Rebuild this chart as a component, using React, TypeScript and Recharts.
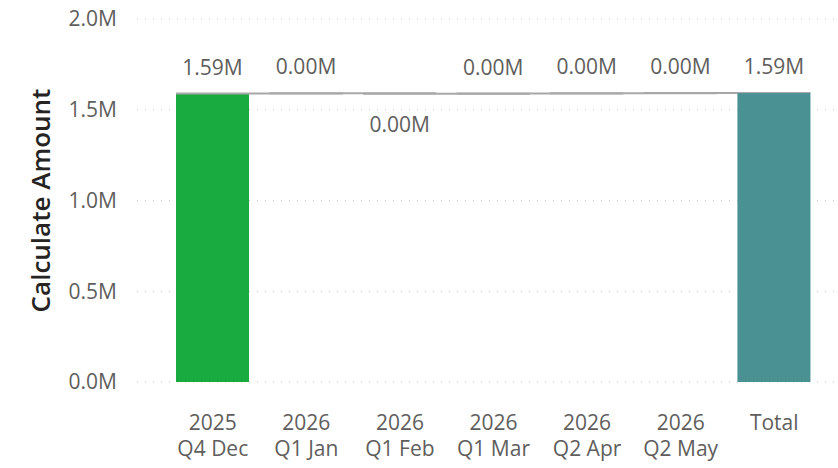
import { BarChart, Bar, XAxis, YAxis, CartesianGrid, LabelList } from "recharts";

const categories = ["2025\nQ4 Dec", "2026\nQ1 Jan", "2026\nQ1 Feb", "2026\nQ1 Mar", "2026\nQ2 Apr", "2026\nQ2 May"];
const totalLabel = "Total";
const deltas = [1589400, 1200, -2100, 800, 1500, 900];
const yTicks = [0, 500000, 1000000, 1500000, 2000000];

const W = 838;
const H = 468;
const margin = { top: 19, right: 2, left: 0, bottom: 0 };
const yAxisWidth = 137;
const xPad = { left: 29, right: 15 };
const font = "'Open Sans', 'Noto Sans', sans-serif";
const textColor = "#605E5C";

const colors = { up: "#1AAB40", down: "#D64550", total: "#4A9194" };

type Row = { name: string; range: [number, number]; amount: number; kind: "up" | "down" | "total" };

let running = 0;
const data: Row[] = deltas.map((d, i) => {
  const start = running;
  running += d;
  return {
    name: categories[i],
    range: [Math.min(start, running), Math.max(start, running)],
    amount: d,
    kind: d >= 0 ? "up" : "down",
  };
});
data.push({ name: totalLabel, range: [0, running], amount: running, kind: "total" });

const step = (W - margin.left - margin.right - yAxisWidth - xPad.left - xPad.right) / data.length;

const fmtAxis = (v: number) => (v / 1e6).toFixed(1) + "M";
const fmtLabel = (v: number) => {
  const m = Math.round(v / 1e4) / 100;
  return (m === 0 ? 0 : m).toFixed(2) + "M";
};

function WaterfallBar(props: any) {
  const { x, y, width, height, payload } = props;
  const h = Math.max(height, 0);
  const endY = payload.kind === "down" ? y + h : y;
  return (
    <g>
      <rect x={x} y={y} width={width} height={h} fill={colors[payload.kind as keyof typeof colors]} />
      {payload.kind !== "total" && (
        <line x1={x} x2={x + width + step} y1={endY} y2={endY} stroke="#A8A8A8" strokeWidth={2} />
      )}
    </g>
  );
}

function BarLabel(props: any) {
  const { x, y, width, height, index } = props;
  const row = data[index];
  const below = row.kind === "down";
  return (
    <text
      x={x + width / 2}
      y={below ? y + Math.max(height, 0) + 38 : y - 19}
      textAnchor="middle"
      fill={textColor}
      fontSize={21}
      fontFamily={font}
    >
      {fmtLabel(row.amount)}
    </text>
  );
}

function XTick(props: any) {
  const { x, y, payload } = props;
  const lines = String(payload.value).split("\n");
  return (
    <text x={x} y={y + 46} textAnchor="middle" fill={textColor} fontSize={21} fontFamily={font}>
      {lines.map((l, i) => (
        <tspan key={i} x={x} dy={i === 0 ? 0 : 26}>
          {l}
        </tspan>
      ))}
    </text>
  );
}

function YTitle(props: any) {
  const { viewBox } = props;
  const cx = viewBox.x + 40;
  const cy = viewBox.y + viewBox.height / 2;
  return (
    <text
      x={cx}
      y={cy}
      transform={`rotate(-90 ${cx} ${cy})`}
      textAnchor="middle"
      dominantBaseline="central"
      fill="#252423"
      fontSize={26}
      fontWeight={600}
      fontFamily={font}
    >
      Calculate Amount
    </text>
  );
}

export default function App() {
  return (
    <div style={{ position: "absolute", left: 0, top: 0, width: W, height: H, background: "#fff" }}>
      <BarChart width={W} height={H} data={data} margin={margin} barSize={73}>
        <CartesianGrid vertical={false} stroke="#C8C6C4" strokeDasharray="1 7" />
        <XAxis
          dataKey="name"
          interval={0}
          axisLine={false}
          tickLine={false}
          tickSize={0}
          height={86}
          padding={xPad}
          tick={<XTick />}
        />
        <YAxis
          width={yAxisWidth}
          domain={[0, 2000000]}
          ticks={yTicks}
          tickFormatter={fmtAxis}
          axisLine={false}
          tickLine={false}
          tickSize={0}
          tickMargin={20}
          tick={{ fill: textColor, fontSize: 21, fontFamily: font }}
          label={<YTitle />}
        />
        <Bar dataKey="range" isAnimationActive={false} shape={<WaterfallBar />}>
          <LabelList dataKey="amount" content={<BarLabel />} />
        </Bar>
      </BarChart>
    </div>
  );
}
